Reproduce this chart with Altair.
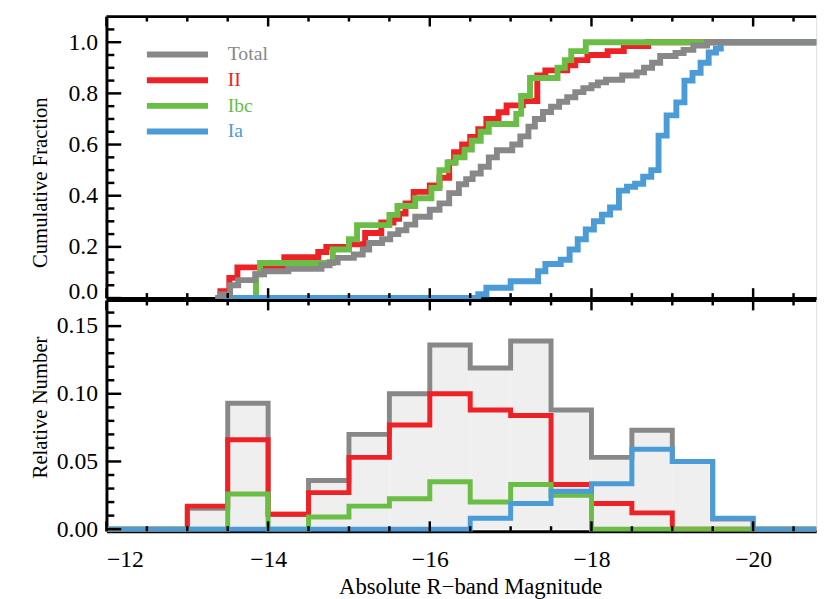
import altair as alt
import pandas as pd

# ---------------- data ----------------
X_LEFT = -12.0
X_RIGHT = -20.78

# cumulative fractions (step starts at given magnitude, holds toward brighter mags)
CDF_TOTAL_MAG = [-13.35, -13.41, -13.53, -13.63, -13.84, -13.95, -14.25, -14.66, -14.76, -14.86,
                 -15.06, -15.17, -15.25, -15.41, -15.51, -15.61, -15.71, -15.82, -16.0, -16.12,
                 -16.24, -16.36, -16.45, -16.53, -16.63, -16.73, -16.83, -17.02, -17.12, -17.22,
                 -17.3, -17.4, -17.5, -17.6, -17.7, -17.8, -17.9, -18.0, -18.08, -18.18,
                 -18.38, -18.56, -18.65, -18.75, -18.85, -19.04, -19.14, -19.26, -19.43, -20.78]
CDF_TOTAL = [0.0, 0.014, 0.05, 0.07, 0.093, 0.105, 0.114, 0.128, 0.14, 0.157,
             0.17, 0.19, 0.215, 0.23, 0.25, 0.265, 0.287, 0.318, 0.345, 0.37,
             0.41, 0.445, 0.465, 0.487, 0.513, 0.55, 0.578, 0.60, 0.632, 0.67,
             0.70, 0.727, 0.748, 0.767, 0.785, 0.805, 0.82, 0.832, 0.843, 0.853,
             0.87, 0.882, 0.90, 0.92, 0.946, 0.958, 0.97, 0.987, 1.0, 1.0]

CDF_II_MAG = [-13.35, -13.41, -13.52, -13.62, -14.2, -14.62, -14.72, -15.0, -15.2, -15.4,
              -15.55, -15.62, -15.7, -15.8, -16.0, -16.12, -16.24, -16.3, -16.4, -16.5,
              -16.6, -16.7, -16.85, -16.95, -17.15, -17.33, -17.43, -17.7, -17.8, -17.95,
              -18.2, -18.4, -18.7, -20.78]
CDF_II = [0.0, 0.027, 0.079, 0.12, 0.16, 0.18, 0.20, 0.21, 0.254, 0.295,
          0.31, 0.33, 0.37, 0.415, 0.44, 0.47, 0.53, 0.57, 0.60, 0.63,
          0.66, 0.70, 0.726, 0.753, 0.77, 0.87, 0.89, 0.91, 0.93, 0.95,
          0.965, 0.985, 1.0, 1.0]

CDF_IBC_MAG = [-13.35, -13.85, -13.9, -14.8, -15.0, -15.1, -15.5, -15.6, -15.82, -16.02,
               -16.12, -16.22, -16.32, -16.43, -16.52, -16.63, -16.73, -17.07, -17.13, -17.24,
               -17.58, -17.67, -17.75, -17.93, -20.78]
CDF_IBC = [0.0, 0.093, 0.137, 0.19, 0.23, 0.285, 0.325, 0.36, 0.39, 0.43,
           0.50, 0.53, 0.55, 0.58, 0.615, 0.65, 0.68, 0.72, 0.79, 0.86,
           0.90, 0.93, 0.965, 1.0, 1.0]

CDF_IA_MAG = [-13.35, -16.6, -16.7, -17.0, -17.34, -17.43, -17.62, -17.73, -17.83, -17.93,
              -18.03, -18.13, -18.23, -18.34, -18.44, -18.54, -18.64, -18.74, -18.83, -18.93,
              -19.05, -19.15, -19.25, -19.35, -19.45, -19.54, -19.6, -20.78]
CDF_IA = [0.0, 0.015, 0.04, 0.066, 0.105, 0.133, 0.15, 0.19, 0.23, 0.268,
          0.30, 0.326, 0.354, 0.42, 0.435, 0.447, 0.474, 0.50, 0.635, 0.714,
          0.765, 0.85, 0.88, 0.92, 0.96, 0.975, 1.0, 1.0]

# histograms (left bin edges, 0.5 mag bins)
HIST_EDGES = [-12.0, -12.5, -13.0, -13.5, -14.0, -14.5, -15.0, -15.5, -16.0, -16.5,
              -17.0, -17.5, -18.0, -18.5, -19.0, -19.5, -20.0, -20.5]
HIST_TOTAL = [0, 0, 0.0155, 0.093, 0.011, 0.036, 0.070, 0.100, 0.136, 0.119,
              0.139, 0.088, 0.053, 0.073, 0.050, 0.0075, 0, 0]
HIST_II = [0, 0, 0.017, 0.066, 0.011, 0.027, 0.053, 0.077, 0.100, 0.088,
           0.084, 0.033, 0.019, 0.012, 0, 0, 0, 0]
HIST_IBC = [0, 0, 0, 0.026, 0, 0.009, 0.017, 0.0225, 0.035, 0.020,
            0.033, 0.025, 0, 0, 0, 0, 0, 0]
HIST_IA = [0, 0, 0, 0, 0, 0, 0, 0, 0, 0.008,
           0.019, 0.028, 0.0335, 0.059, 0.050, 0.008, 0, 0]

SERIES = ["Total", "II", "Ibc", "Ia"]
COLORS = {"Total": "#888888", "II": "#ee2226", "Ibc": "#6abd45", "Ia": "#4b9cd6"}

X_MAJOR = [-12, -14, -16, -18, -20]
X_MINOR = [-12.5, -13, -13.5, -14.5, -15, -15.5, -16.5, -17, -17.5, -18.5, -19, -19.5, -20.5]
Y1_MAJOR = [0.0, 0.2, 0.4, 0.6, 0.8, 1.0]
Y1_MINOR = [0.05, 0.1, 0.15, 0.25, 0.3, 0.35, 0.45, 0.5, 0.55, 0.65, 0.7, 0.75, 0.85, 0.9, 0.95, 1.05]
Y2_MAJOR = [0.0, 0.05, 0.10, 0.15]
Y2_MINOR = [0.01, 0.02, 0.03, 0.04, 0.06, 0.07, 0.08, 0.09, 0.11, 0.12, 0.13, 0.14, 0.16]

# ---------------- layout / style ----------------
W = 720
H1 = 285.5
H2 = 234
FONT = "Liberation Serif"
LAB = 24
YTIT = 21
XTIT = 23


def steps(mags, vals, name):
    return pd.DataFrame({"mag": mags, "val": vals, "series": name, "idx": list(range(len(mags)))})


def hist(vals, name):
    mags = HIST_EDGES + [X_RIGHT]
    v = list(vals) + [0]
    return steps(mags, v, name)


xscale = alt.Scale(domain=[X_RIGHT, X_LEFT], reverse=True, nice=False, zero=False)
y1scale = alt.Scale(domain=[0.0, 1.1], nice=False, zero=False)
y2scale = alt.Scale(domain=[-0.0015, 0.1689], nice=False, zero=False)

one = pd.DataFrame({"a": [0]})

x_top_axis = alt.Axis(values=X_MAJOR, labels=False, ticks=False, tickSize=0, grid=False, title="",
                      domain=True, domainColor="black", domainWidth=3)
y_top_axis = alt.Axis(values=Y1_MAJOR, format=".1f", grid=False, ticks=False, tickSize=0,
                      domain=True, domainColor="black", domainWidth=3,
                      labelFont=FONT, labelFontSize=LAB, labelColor="black", labelPadding=9,
                      labelBaseline={"condition": {"test": "datum.value == 0", "value": "alphabetic"},
                                     "value": "middle"},
                      title="Cumulative Fraction", titleFont=FONT, titleFontSize=YTIT,
                      titleFontWeight="normal", titleColor="black",
                      titleX=-67, titleY=168, titleAngle=-90, titleBaseline="middle",
                      titleAlign="center")
x_bot_axis = alt.Axis(values=X_MAJOR, format="d", grid=False, ticks=False, tickSize=0,
                      domain=True, domainColor="black", domainWidth=3,
                      labelFont=FONT, labelFontSize=LAB, labelColor="black", labelPadding=17,
                      title="Absolute R\u2212band Magnitude", titleFont=FONT, titleFontSize=XTIT,
                      titleFontWeight="normal", titleColor="black", titlePadding=4,
                      titleX=369)
y_bot_axis = alt.Axis(values=Y2_MAJOR, format=".2f", grid=False, ticks=False, tickSize=0,
                      domain=True, domainColor="black", domainWidth=3,
                      labelFont=FONT, labelFontSize=LAB, labelColor="black", labelPadding=9,
                      title="Relative Number", titleFont=FONT, titleFontSize=YTIT,
                      titleFontWeight="normal", titleColor="black",
                      titleX=-67, titleY=108, titleAngle=-90, titleBaseline="middle",
                      titleAlign="center")


def frame_layers(h, yscale, ymaj, ymin, xaxis, yaxis):
    layers = []
    # top edge of panel
    layers.append(alt.Chart(one).mark_rule(color="black", strokeWidth=3).encode(
        x=alt.value(0), x2=alt.value(W), y=alt.value(0)))
    # x ticks on top and bottom edges (inward)
    for vals, ln in ((X_MAJOR, 10), (X_MINOR, 5)):
        d = pd.DataFrame({"t": vals})
        layers.append(alt.Chart(d).mark_rule(color="black", strokeWidth=2.5).encode(
            x=alt.X("t:Q", scale=xscale, axis=xaxis), y=alt.value(0), y2=alt.value(ln)))
        layers.append(alt.Chart(d).mark_rule(color="black", strokeWidth=2.5).encode(
            x=alt.X("t:Q", scale=xscale, axis=xaxis), y=alt.value(h), y2=alt.value(h - ln)))
    # y ticks on left edge (inward)
    for vals, ln in ((ymaj, 15), (ymin, 8)):
        d = pd.DataFrame({"t": vals})
        layers.append(alt.Chart(d).mark_rule(color="black", strokeWidth=2.5).encode(
            y=alt.Y("t:Q", scale=yscale, axis=yaxis), x=alt.value(0), x2=alt.value(ln)))
    return layers


# ---------------- top panel: cumulative fractions ----------------
cdf_data = {
    "Total": steps(CDF_TOTAL_MAG, CDF_TOTAL, "Total"),
    "II": steps(CDF_II_MAG, CDF_II, "II"),
    "Ibc": steps(CDF_IBC_MAG, CDF_IBC, "Ibc"),
    "Ia": steps(CDF_IA_MAG, CDF_IA, "Ia"),
}

top_layers = []
for name in ["II", "Ibc", "Ia", "Total"]:
    top_layers.append(
        alt.Chart(cdf_data[name]).mark_line(interpolate="step-after", strokeWidth=6,
                                            color=COLORS[name], strokeCap="butt",
                                            strokeJoin="miter").encode(
            x=alt.X("mag:Q", scale=xscale, axis=x_top_axis),
            y=alt.Y("val:Q", scale=y1scale, axis=y_top_axis),
            order=alt.Order("idx:Q"))
    )

# legend
for i, name in enumerate(SERIES):
    yy = 38.5 + 26 * i
    top_layers.append(alt.Chart(one).mark_rule(color=COLORS[name], strokeWidth=6).encode(
        x=alt.value(41), x2=alt.value(103), y=alt.value(yy)))
    top_layers.append(alt.Chart(one).mark_text(color=COLORS[name], font=FONT, fontSize=20,
                                               align="left", baseline="middle").encode(
        x=alt.value(123), y=alt.value(yy), text=alt.value(name)))

top_layers += frame_layers(H1, y1scale, Y1_MAJOR, Y1_MINOR, x_top_axis, y_top_axis)
top = alt.layer(*top_layers).properties(width=W, height=H1)

# ---------------- bottom panel: histograms ----------------
hist_data = {
    "Total": hist(HIST_TOTAL, "Total"),
    "II": hist(HIST_II, "II"),
    "Ibc": hist(HIST_IBC, "Ibc"),
    "Ia": hist(HIST_IA, "Ia"),
}

bot_layers = [
    alt.Chart(hist_data["Total"]).mark_area(interpolate="step-after", color="#efefef",
                                            opacity=1).encode(
        x=alt.X("mag:Q", scale=xscale, axis=x_bot_axis),
        y=alt.Y("val:Q", scale=y2scale, axis=y_bot_axis),
        order=alt.Order("idx:Q"))
]
for name in ["Total", "II", "Ibc", "Ia"]:
    bot_layers.append(
        alt.Chart(hist_data[name]).mark_line(interpolate="step-after", strokeWidth=5,
                                             color=COLORS[name], strokeCap="butt",
                                             strokeJoin="miter").encode(
            x=alt.X("mag:Q", scale=xscale, axis=x_bot_axis),
            y=alt.Y("val:Q", scale=y2scale, axis=y_bot_axis),
            order=alt.Order("idx:Q"))
    )
bot_layers += frame_layers(H2, y2scale, Y2_MAJOR, Y2_MINOR, x_bot_axis, y_bot_axis)
bottom = alt.layer(*bot_layers).properties(width=W, height=H2)

chart = alt.vconcat(top, bottom, spacing=2, bounds="flush").properties(
    padding={"left": 29, "top": 10.5, "right": 0, "bottom": 0},
    background="white",
).configure_view(stroke=None).configure_axis(
    labelFont=FONT, titleFont=FONT
).configure_text(font=FONT).configure(font=FONT)

chart.save("out.html", embed_options={"renderer": "svg", "actions": False})
